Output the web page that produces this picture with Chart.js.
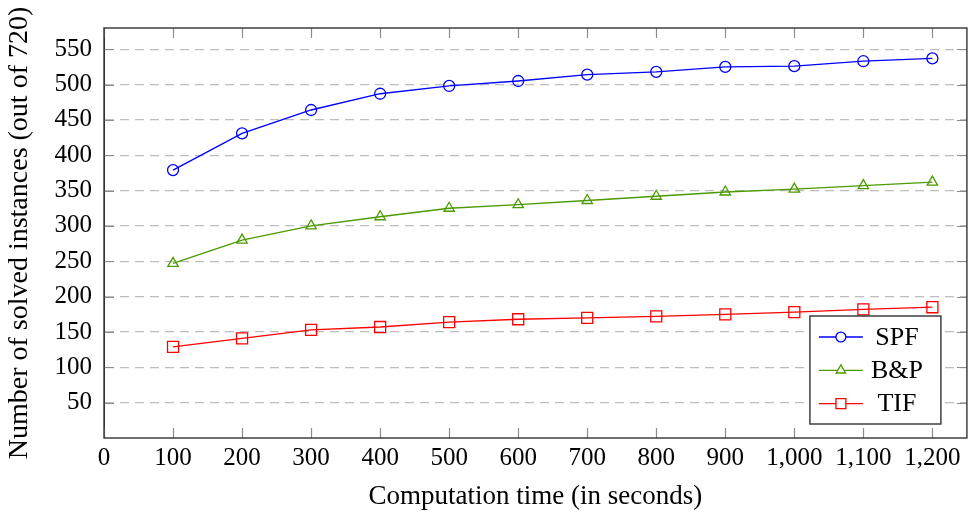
<!DOCTYPE html>
<html lang="en">
<head>
	<meta charset="UTF-8">
	<title>Solved instances</title>
	<script src="https://cdn.jsdelivr.net/npm/chart.js@4.4.0/dist/chart.umd.min.js"></script>
	<style>
		html, body { margin: 0; background: #fff; overflow: hidden; }
		#wrap { width: 968px; height: 515px; overflow: hidden; }
	</style>
</head>
<body>
	<div id="wrap"><canvas id="myChart" width="976" height="515"></canvas></div>

	<script>
		// values
		const times = [100, 200, 300, 400, 500, 600, 700, 800, 900, 1000, 1100, 1200]
		const spf = [379, 431, 464, 487, 498, 505, 514, 518, 525, 526, 533, 537]
		const bp = [247, 280, 300, 313, 325, 330, 336, 342, 348, 352, 357, 362]
		const tif = [129, 141, 153, 157, 164, 168, 170, 172, 175, 178, 182, 185]
		const seriesNames = ['SPF', 'B&P', 'TIF']
		const xTicks = [0, 100, 200, 300, 400, 500, 600, 700, 800, 900, 1000, 1100, 1200]
		const yTicks = [50, 100, 150, 200, 250, 300, 350, 400, 450, 500, 550]

		const FONT = 'Liberation Serif'
		const frameColor = '#333'
		const tickColor = '#8c8c8c'

		function pts(ys) {
			return times.map((t, i) => ({ x: t, y: ys[i] }))
		}

		function series(label, ys, color, style, r) {
			return {
				label: label,
				data: pts(ys),
				borderColor: color,
				backgroundColor: 'rgba(0,0,0,0)',
				borderWidth: 1.3,
				pointStyle: style,
				pointRadius: r,
				pointHoverRadius: r,
				pointBorderColor: color,
				pointBackgroundColor: 'rgba(0,0,0,0)',
				pointBorderWidth: 1.3,
				tension: 0
			}
		}

		// frame, inside ticks and the legend box in the lower right
		const framePlugin = {
			id: 'frame',
			afterDatasetsDraw(chart) {
				const c = chart.ctx
				const a = chart.chartArea
				const xs = chart.scales.x, ys = chart.scales.y
				const tl = 10
				c.save()
				c.strokeStyle = tickColor
				c.lineWidth = 1.2
				c.beginPath()
				xTicks.forEach(v => {
					const px = Math.round(xs.getPixelForValue(v)) + 0.5
					c.moveTo(px, a.bottom); c.lineTo(px, a.bottom - tl)
					c.moveTo(px, a.top); c.lineTo(px, a.top + tl)
				})
				yTicks.forEach(v => {
					const py = Math.round(ys.getPixelForValue(v)) + 0.5
					c.moveTo(a.left, py); c.lineTo(a.left + tl, py)
					c.moveTo(a.right, py); c.lineTo(a.right - tl, py)
				})
				c.stroke()

				c.strokeStyle = frameColor
				c.lineWidth = 1.4
				c.strokeRect(a.left, a.top, a.right - a.left, a.bottom - a.top)

				// legend
				const bw = 131, bh = 108
				const bx = a.right - 26 - bw, by = a.bottom - 14 - bh
				c.fillStyle = '#fff'
				c.fillRect(bx, by, bw, bh)
				c.strokeStyle = frameColor
				c.lineWidth = 1.4
				c.strokeRect(bx, by, bw, bh)
				c.font = '26px "' + FONT + '"'
				c.textAlign = 'center'
				c.textBaseline = 'middle'
				chart.data.datasets.forEach((ds, i) => {
					const cy = by + 21 + i * 33.3
					c.strokeStyle = ds.borderColor
					c.lineWidth = 1.3
					c.beginPath()
					c.moveTo(bx + 9, cy); c.lineTo(bx + 53, cy)
					c.stroke()
					c.fillStyle = '#fff'
					Chart.helpers.drawPoint(c, {
						pointStyle: ds.pointStyle,
						radius: ds.pointRadius * 0.9,
						borderWidth: 1.3,
						rotation: 0
					}, bx + 31, cy)
					c.fillStyle = '#000'
					c.fillText(seriesNames[i], bx + 87, cy + 1)
				})
				c.restore()
			}
		}

		var ctx = document.getElementById('myChart').getContext('2d')

		var chart = new Chart(ctx, {
			type: 'line',
			data: {
				datasets: [
					series(seriesNames[0], spf, '#0000ff', 'circle', 5.5),
					series(seriesNames[1], bp, '#4c9a00', 'triangle', 6),
					series(seriesNames[2], tif, '#ff0000', 'rect', 7.8)
				]
			},
			plugins: [framePlugin],
			options: {
				responsive: false,
				animation: false,
				devicePixelRatio: 1,
				layout: {
					padding: { left: 0, right: 0, top: 28, bottom: 0 }
				},
				scales: {
					x: {
						type: 'linear',
						min: 0,
						max: 1250,
						afterBuildTicks: s => { s.ticks = xTicks.map(v => ({ value: v })) },
						afterFit: s => { s.height = 77 },
						grid: { display: false },
						border: { display: false },
						ticks: {
							color: '#000',
							padding: -3,
							maxRotation: 0,
							autoSkip: false,
							font: { family: FONT, size: 25 },
							callback: v => v.toLocaleString('en-US')
						},
						title: {
							display: true,
							text: 'Computation time (in seconds)',
							color: '#000',
							font: { family: FONT, size: 27 },
							padding: { top: 4, bottom: 2 }
						}
					},
					y: {
						min: 0,
						max: 580,
						afterBuildTicks: s => { s.ticks = yTicks.map(v => ({ value: v })) },
						afterFit: s => { s.width = 104 },
						grid: {
							color: '#bdbdbd',
							lineWidth: 1.2,
							drawTicks: false
						},
						border: { display: true, color: frameColor, dash: [9, 6] },
						ticks: {
							color: '#000',
							padding: 12,
							autoSkip: false,
							font: { family: FONT, size: 25 }
						},
						title: {
							display: true,
							text: 'Number of solved instances (out of 720)',
							color: '#000',
							font: { family: FONT, size: 28 },
							padding: { top: 3, bottom: 4 }
						}
					}
				},
				plugins: {
					legend: { display: false },
					tooltip: { enabled: false }
				}
			}
		})
	</script>
</body>
</html>
